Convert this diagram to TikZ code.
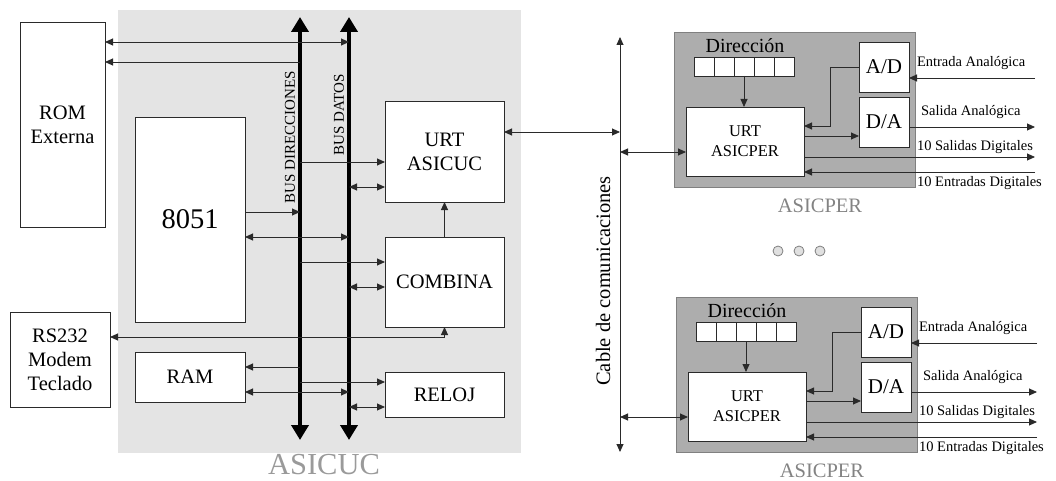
\documentclass[tikz,border=0pt]{standalone}
\usepackage{fontspec}
\setmainfont{Liberation Serif}
\usetikzlibrary{arrows.meta}
\definecolor{bgA}{HTML}{E4E4E4}
\definecolor{bgP}{HTML}{ADADAD}
\definecolor{lbl}{HTML}{9A9A9A}
\definecolor{ln}{HTML}{2A2A2A}
\newcommand\perunit{%
  \fill[bgP, draw=gray, line width=0.8pt] (674,32) rectangle (915,187);
  \node[font=\fontsize{20}{23}\selectfont] (dir) at (745,46) {Dirección};
  \foreach \i in {1,...,5} \node[cell] (c\i) at (674+20*\i,57) {};
  \node[box, minimum width=118pt, minimum height=69pt, font=\fontsize{16.5}{20}\selectfont] (urt) at (686,107) {URT\\ASICPER};
  \node[box, minimum width=50pt, minimum height=50pt, font=\fontsize{21}{24}\selectfont] (ad) at (859,42) {A/D};
  \node[box, minimum width=50pt, minimum height=50pt, font=\fontsize{21}{24}\selectfont] (da) at (859,97) {D/A};
  \draw[ar] (c3.south) -- (c3.south |- urt.north);
  \draw[ar] (ad.west) -- ++(-29,0) |- (urt.east |- 0,126);
  \draw[ar] (urt.east |- 0,136) -- (da.west |- 0,136);
  \coordinate (ein) at (1035,78);
  \coordinate (sout) at (1035,127);
  \coordinate (dout) at (1035,157);
  \coordinate (din) at (1035,172);
  \draw[ar] (ein) -- (ad.east |- ein);
  \draw[ar] (da.east |- sout) -- (sout);
  \draw[ar] (urt.east |- dout) -- (dout);
  \draw[ar] (din) -- (urt.east |- din);
  \node[lab] (tein) at (917,63) {Entrada Analógica};
  \node[lab] (tsout) at (921,112) {Salida Analógica};
  \node[lab] (tdout) at (917,147) {10 Salidas Digitales};
  \node[lab] (tdin) at (917,183) {10 Entradas Digitales};
  \node[font=\fontsize{20.5}{24}\selectfont, text=lbl!85!black] (name) at (820,206) {ASICPER};
}
\begin{document}
\begin{tikzpicture}[x=1pt,y=-1pt,
  every node/.style={inner sep=0pt, outer sep=0pt},
  box/.style={draw=ln, fill=white, line width=0.9pt, anchor=north west, align=center, font=\fontsize{20.5}{24}\selectfont},
  con/.style={draw=ln, line width=0.9pt},
  ar/.style={con, -{Triangle[length=8pt,width=7pt]}},
  lr/.style={con, {Triangle[length=8pt,width=7pt]}-{Triangle[length=8pt,width=7pt]}},
  bus/.style={line width=4pt, black, {Triangle[length=15pt,width=17pt]}-{Triangle[length=15pt,width=17pt]}},
  cell/.style={draw=ln, fill=white, line width=0.8pt, minimum width=20pt, minimum height=19pt, anchor=north west},
  lab/.style={font=\fontsize{14.5}{17}\selectfont, anchor=west},
  dot/.style={circle, draw=gray, fill=black!12, line width=0.8pt, minimum size=10pt},
]
\useasboundingbox (0,0) rectangle (1056,481);
% ASICUC background
\fill[bgA] (118,10) rectangle (521,453);
\node[font=\fontsize{30.5}{34}\selectfont, text=lbl] (asicuc) at (324,465) {ASICUC};
% boxes
\node[box, minimum width=85pt, minimum height=205pt] (rom) at (20,22) {ROM\\Externa};
\node[box, minimum width=110pt, minimum height=205pt, font=\fontsize{28.5}{32}\selectfont] (cpu) at (135,117) {8051};
\node[box, minimum width=110pt, minimum height=50pt] (ram) at (135,352) {RAM};
\node[box, minimum width=100pt, minimum height=95pt] (rs) at (10,312) {RS232\\Modem\\Teclado};
\node[box, minimum width=119pt, minimum height=101pt] (urt) at (385,101) {URT\\ASICUC};
\node[box, minimum width=119pt, minimum height=90pt] (comb) at (385,237) {COMBINA};
\node[box, minimum width=119pt, minimum height=45pt] (reloj) at (385,372) {RELOJ};
% buses
\coordinate (ab) at (300,17);
\coordinate (abe) at (300,440);
\coordinate (db) at (349,17);
\coordinate (dbe) at (349,440);
\draw[bus] (abe) -- (ab);
\draw[bus] (dbe) -- (db);
\node[font=\fontsize{15}{17}\selectfont, rotate=90] (tab) at (290,137) {BUS DIRECCIONES};
\node[font=\fontsize{15}{17}\selectfont, rotate=90] (tdb) at (339,115) {BUS DATOS};
% connectors
\draw[lr] (rom.east |- 0,42) -- (db |- 0,42);
\draw[ar] (ab |- 0,62) -- (rom.east |- 0,62);
\draw[ar] (ab |- 0,162) -- (urt.west |- 0,162);
\draw[lr] (db |- 0,187) -- (urt.west |- 0,187);
\draw[ar] (cpu.east |- 0,212) -- (ab |- 0,212);
\draw[lr] (cpu.east |- 0,237) -- (db |- 0,237);
\draw[ar] (ab |- 0,262) -- (comb.west |- 0,262);
\draw[lr] (db |- 0,287) -- (comb.west |- 0,287);
\draw[ar] (comb.north) -- (urt.south);
\draw[lr] (rs.east |- 0,337) -- (comb.south |- 0,337) -- (comb.south);
\draw[ar] (ab |- 0,367) -- (ram.east |- 0,367);
\draw[lr] (ram.east |- 0,392) -- (db |- 0,392);
\draw[ar] (ab |- 0,382) -- (reloj.west |- 0,382);
\draw[lr] (db |- 0,407) -- (reloj.west |- 0,407);
% cable
\coordinate (cab) at (620,37);
\coordinate (cabe) at (620,452);
\draw[lr] (cab) -- (cabe);
\node[font=\fontsize{20.5}{24}\selectfont, rotate=90] (tcab) at (603,281) {Cable de comunicaciones};
\draw[lr] (urt.east |- 0,132) -- (cab |- 0,132);
% ASICPER units
\begin{scope}[name prefix=pa-]
\perunit
\end{scope}
\begin{scope}[shift={(2,265)}, name prefix=pb-]
\perunit
\end{scope}
\draw[lr] (cab |- 0,152) -- (pa-urt.west |- 0,152);
\draw[lr] (cab |- 0,417) -- (pb-urt.west |- 0,417);
% dots
\node[dot] (d1) at (778,251) {};
\node[dot] (d2) at (799,251) {};
\node[dot] (d3) at (820,251) {};
\end{tikzpicture}
\end{document}
